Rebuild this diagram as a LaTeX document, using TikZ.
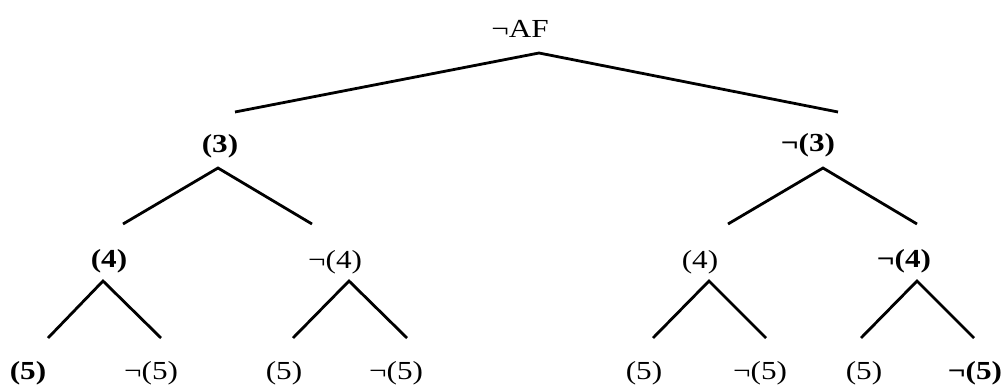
\documentclass[tikz,border=0pt]{standalone}
\usepackage{fontspec}
\setmainfont{Liberation Serif}
\usepackage{graphicx}
\usepackage{tikz}
\usetikzlibrary{positioning}
\newcommand{\wide}[1]{\scalebox{1.2}[1]{#1}}
\tikzstyle{lbl} = [inner sep=0pt, anchor=base, font=\fontsize{26}{31}\selectfont]
\tikzstyle{blbl} = [lbl, font=\fontsize{26}{31}\selectfont\bfseries]
\tikzstyle{branch} = [line width=2.8pt, line cap=butt]

\begin{document}
\begin{tikzpicture}[x=1pt, y=-1pt]
        \useasboundingbox (0,0) rectangle (1008,385);
        % labels
        \node (r) [lbl] at (520,38) {\wide{¬AF}};
        \node (a) [blbl] at (220,152) {\wide{(3)}};
        \node (b) [blbl] at (808,151) {\wide{¬(3)}};
        \node (aa) [blbl] at (109,267) {\wide{(4)}};
        \node (ab) [lbl] at (335,268) {\wide{¬(4)}};
        \node (ba) [lbl] at (700,268) {\wide{(4)}};
        \node (bb) [blbl] at (904,267) {\wide{¬(4)}};
        \node (aaa) [blbl] at (28,379) {\wide{(5)}};
        \node (aab) [lbl] at (151,379) {\wide{¬(5)}};
        \node (aba) [lbl] at (284,379) {\wide{(5)}};
        \node (abb) [lbl] at (396,379) {\wide{¬(5)}};
        \node (baa) [lbl] at (644,379) {\wide{(5)}};
        \node (bab) [lbl] at (760,379) {\wide{¬(5)}};
        \node (bba) [lbl] at (864,379) {\wide{(5)}};
        \node (bbb) [blbl] at (975,379) {\wide{¬(5)}};

        % branch points under and ends above
        \coordinate (r-v) at (539,53);
        \coordinate (a-v) at (218,168);
        \coordinate (b-v) at (823,168);
        \coordinate (aa-v) at (103,281);
        \coordinate (ab-v) at (349,281);
        \coordinate (ba-v) at (709,281);
        \coordinate (bb-v) at (917,281);
        \coordinate (a-in) at (235,112);
        \coordinate (b-in) at (838,112);
        \coordinate (aa-in) at (123,224);
        \coordinate (ab-in) at (312,224);
        \coordinate (ba-in) at (728,224);
        \coordinate (bb-in) at (917,224);
        \coordinate (aaa-in) at (48,338);
        \coordinate (aab-in) at (161,338);
        \coordinate (aba-in) at (293,338);
        \coordinate (abb-in) at (407,338);
        \coordinate (baa-in) at (653,338);
        \coordinate (bab-in) at (766,338);
        \coordinate (bba-in) at (861,338);
        \coordinate (bbb-in) at (974,338);

        \draw [branch] (a-in) -- (r-v) -- (b-in);
        \draw [branch] (aa-in) -- (a-v) -- (ab-in);
        \draw [branch] (ba-in) -- (b-v) -- (bb-in);
        \draw [branch] (aaa-in) -- (aa-v) -- (aab-in);
        \draw [branch] (aba-in) -- (ab-v) -- (abb-in);
        \draw [branch] (baa-in) -- (ba-v) -- (bab-in);
        \draw [branch] (bba-in) -- (bb-v) -- (bbb-in);
    \end{tikzpicture}
\end{document}
